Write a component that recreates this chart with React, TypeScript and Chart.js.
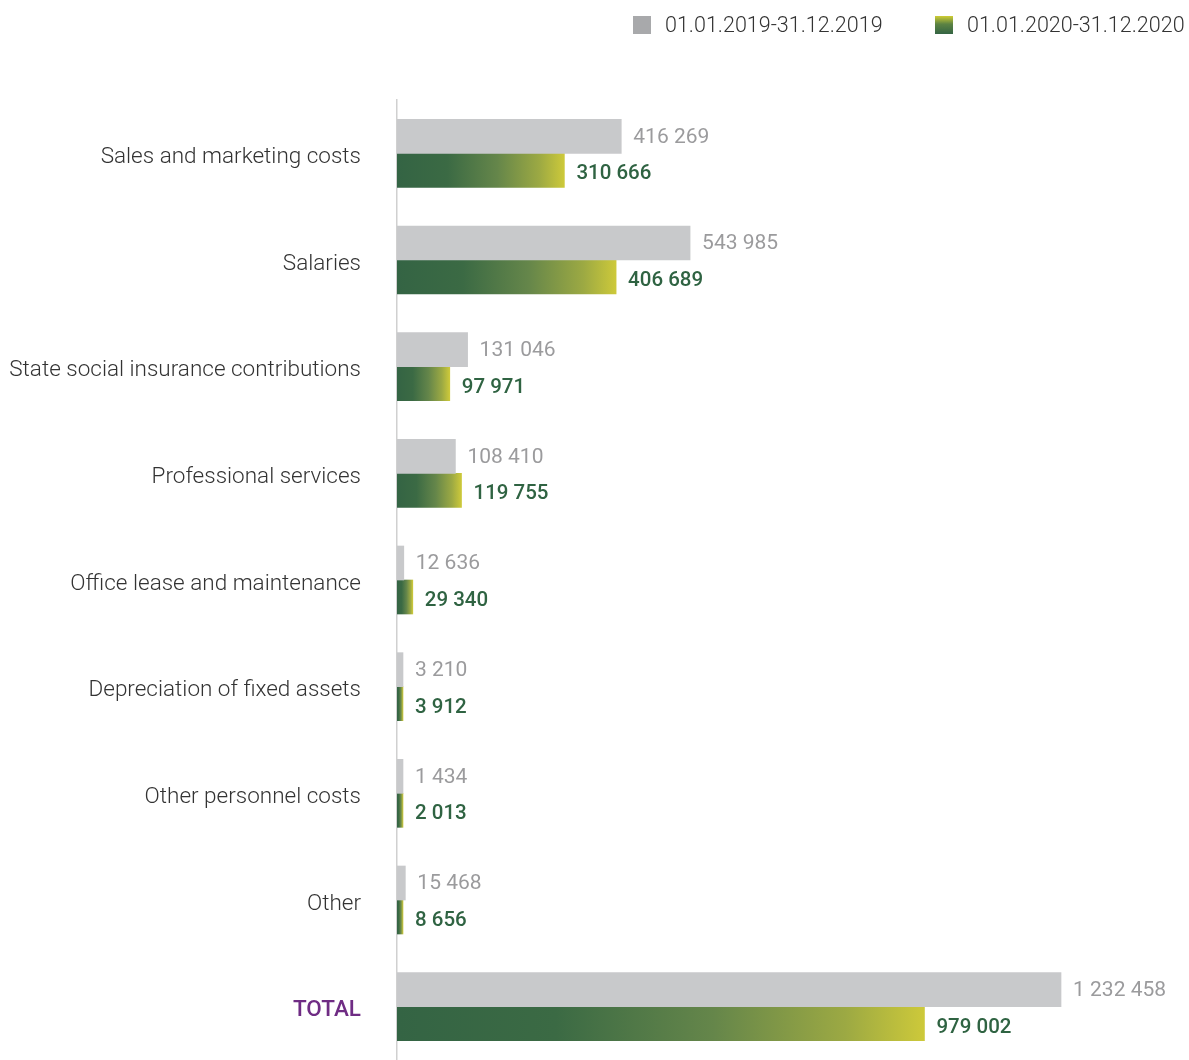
import React, { useEffect, useRef } from "react";
import { Chart, registerables } from "chart.js";

Chart.register(...registerables);

const categories = [
  "Sales and marketing costs",
  "Salaries",
  "State social insurance contributions",
  "Professional services",
  "Office lease and maintenance",
  "Depreciation of fixed assets",
  "Other personnel costs",
  "Other",
  "TOTAL",
];
const values2019 = [416269, 543985, 131046, 108410, 12636, 3210, 1434, 15468, 1232458];
const values2020 = [310666, 406689, 97971, 119755, 29340, 3912, 2013, 8656, 979002];
const seriesLabels = ["01.01.2019-31.12.2019", "01.01.2020-31.12.2020"];

const FONT = "Roboto, 'Noto Sans', sans-serif";
const GRAY = "#c8c9cb";
const GREEN_TEXT = "#2f6342";
const MIN_BAR = 6;

const fmt = (v: number) => String(v).replace(/\B(?=(\d{3})+(?!\d))/g, " ");

const valueLabels = {
  id: "valueLabels",
  afterDatasetsDraw(chart: any) {
    const ctx = chart.ctx;
    ctx.save();
    ctx.textBaseline = "middle";
    ctx.textAlign = "left";
    chart.data.datasets.forEach((ds: any, di: number) => {
      const meta = chart.getDatasetMeta(di);
      meta.data.forEach((el: any, i: number) => {
        const v = ds.data[i];
        if (di === 0) {
          ctx.font = `400 21px ${FONT}`;
          ctx.fillStyle = "#9b9b9d";
          ctx.fillText(fmt(v), el.x + 12, el.y + 1);
        } else {
          ctx.font = `500 20.5px ${FONT}`;
          ctx.fillStyle = GREEN_TEXT;
          ctx.fillText(fmt(v), el.x + 12, el.y + 4);
        }
      });
    });
    ctx.restore();
  },
};

export default function App() {
  const ref = useRef<HTMLCanvasElement | null>(null);

  useEffect(() => {
    document.body.style.margin = "0";
    const canvas = ref.current;
    if (!canvas) return;
    const chart = new Chart(canvas, {
      type: "bar",
      data: {
        labels: categories,
        datasets: [
          {
            label: seriesLabels[0],
            data: values2019,
            backgroundColor: GRAY,
            barThickness: 34,
            minBarLength: MIN_BAR,
          },
          {
            label: seriesLabels[1],
            data: values2020,
            barThickness: 34,
            minBarLength: MIN_BAR,
            backgroundColor: (c: any) => {
              const ch = c.chart;
              if (!ch.chartArea || c.type !== "data" || !ch.scales.x) return "#3b6a44";
              const xs = ch.scales.x;
              const x0 = xs.getPixelForValue(0);
              let x1 = xs.getPixelForValue(c.raw);
              if (x1 - x0 < MIN_BAR) x1 = x0 + MIN_BAR;
              const g = ch.ctx.createLinearGradient(x0, 0, x1, 0);
              g.addColorStop(0, "#346444");
              g.addColorStop(0.3, "#3b6a44");
              g.addColorStop(0.6, "#65864a");
              g.addColorStop(0.85, "#9ca943");
              g.addColorStop(1, "#cdc93a");
              return g;
            },
          },
        ],
      },
      options: {
        indexAxis: "y",
        responsive: false,
        animation: false,
        events: [],
        layout: { padding: { top: 100, right: 0, bottom: 0, left: 0 } },
        plugins: {
          legend: { display: false },
          tooltip: { enabled: false },
        },
        scales: {
          x: {
            display: false,
            min: 0,
            max: 1470000,
          },
          y: {
            afterFit: (s: any) => {
              s.width = 397;
              s.paddingTop = 0;
              s.paddingBottom = 0;
            },
            grid: { display: false, drawTicks: false },
            border: { display: true, color: "#d0d0d0", width: 1.5 },
            ticks: {
              padding: 36,
              labelOffset: 4,
              color: (c: any) => (c.index === 8 ? "#6f2c84" : "#333333"),
              font: (c: any) => ({
                family: FONT,
                size: 22.5,
                weight: c.index === 8 ? 500 : 300,
              }),
            },
          },
        },
      },
      plugins: [valueLabels],
    } as any);
    return () => chart.destroy();
  }, []);

  const legendText: React.CSSProperties = {
    fontFamily: FONT,
    fontSize: 21.5,
    fontWeight: 300,
    color: "#333",
    marginLeft: 14,
    whiteSpace: "nowrap",
  };
  const item = (left: number): React.CSSProperties => ({
    position: "absolute",
    top: 12,
    left,
    display: "flex",
    alignItems: "center",
  });

  return (
    <div style={{ position: "relative", width: 1189, height: 1060 }}>
      <canvas ref={ref} width={1189} height={1060} style={{ display: "block" }} />
      <div style={item(633)}>
        <div style={{ width: 18, height: 18, background: "#a8a9ab" }} />
        <span style={legendText}>{seriesLabels[0]}</span>
      </div>
      <div style={item(935)}>
        <div
          style={{
            width: 18,
            height: 18,
            background: "linear-gradient(to bottom, #cfcd34, #5c8343 45%, #346444)",
          }}
        />
        <span style={legendText}>{seriesLabels[1]}</span>
      </div>
    </div>
  );
}
